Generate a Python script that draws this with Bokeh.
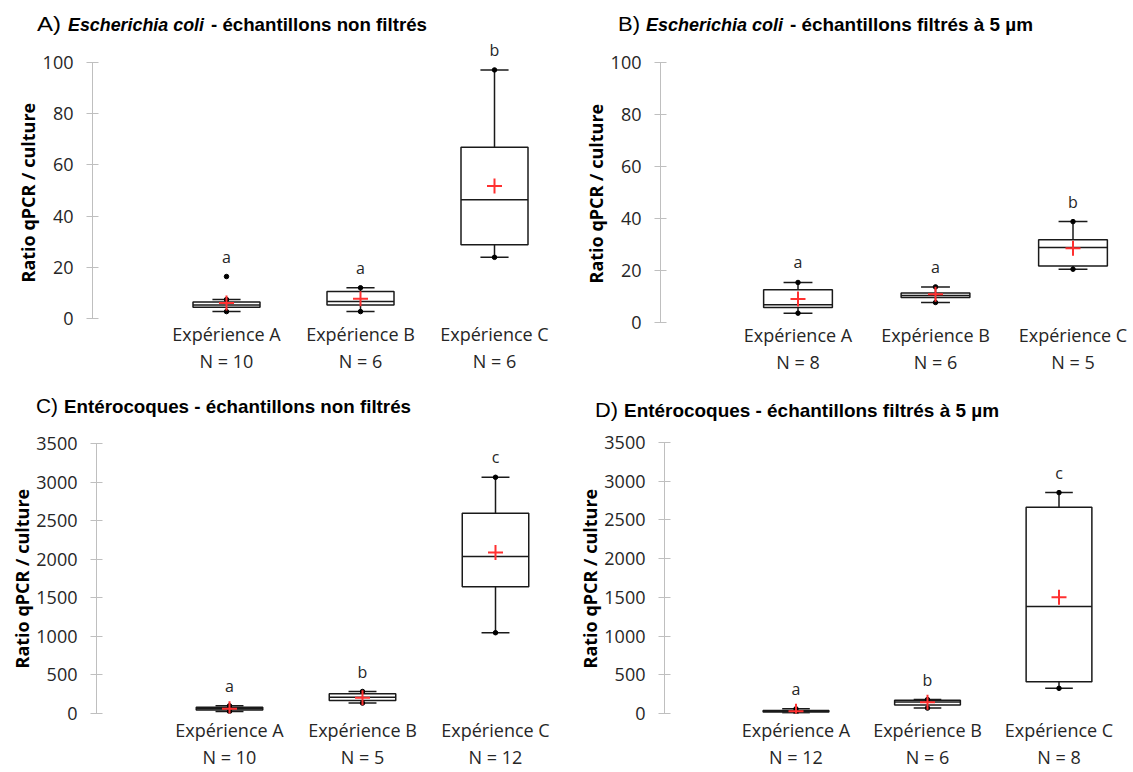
from bokeh.plotting import figure
from bokeh.models import Range1d, FixedTicker, LinearAxis, Title, Div
from bokeh.layouts import row, column
from bokeh.core.properties import value
from bokeh.embed import file_html
from bokeh.resources import INLINE

categories = ["Expérience A", "Expérience B", "Expérience C"]

# A) Escherichia coli - non filtrés
a_n = [10, 6, 6]
a_wlo = [2.7, 2.7, 23.9]
a_q1 = [4.4, 5.3, 28.8]
a_med = [5.3, 6.6, 46.4]
a_q3 = [6.4, 10.5, 66.9]
a_whi = [7.4, 12.0, 97.1]
a_mean = [6.1, 7.7, 51.8]
a_out_cat = ["Expérience A"]
a_out_val = [16.4]
a_letters = ["a", "a", "b"]

# B) Escherichia coli - filtrés à 5 µm
b_n = [8, 6, 5]
b_wlo = [3.6, 7.7, 20.5]
b_q1 = [5.8, 9.6, 21.7]
b_med = [6.8, 10.4, 28.8]
b_q3 = [12.6, 11.3, 31.8]
b_whi = [15.4, 13.7, 38.8]
b_mean = [9.0, 10.9, 28.6]
b_out_cat = []
b_out_val = []
b_letters = ["a", "a", "b"]

# C) Entérocoques - non filtrés
c_n = [10, 5, 12]
c_wlo = [25, 135, 1047]
c_q1 = [45, 170, 1642]
c_med = [60, 212, 2036]
c_q3 = [80, 255, 2596]
c_whi = [100, 285, 3062]
c_mean = [62, 205, 2087]
c_out_cat = []
c_out_val = []
c_letters = ["a", "b", "c"]

# D) Entérocoques - filtrés à 5 µm
d_n = [12, 6, 8]
d_wlo = [5, 70, 325]
d_q1 = [20, 110, 410]
d_med = [30, 150, 1382]
d_q3 = [40, 170, 2663]
d_whi = [60, 180, 2853]
d_mean = [30, 145, 1500]
d_out_cat = []
d_out_val = []
d_letters = ["a", "b", "c"]

ticks_small = [0, 20, 40, 60, 80, 100]
ticks_large = [0, 500, 1000, 1500, 2000, 2500, 3000, 3500]

titleA = ["A)", "Escherichia coli", "- échantillons non filtrés"]
titleB = ["B)", "Escherichia coli", "- échantillons filtrés à 5 µm"]
titleC = ["C)", "Entérocoques - échantillons non filtrés"]
titleD = ["D)", "Entérocoques - échantillons filtrés à 5 µm"]
ylabel = "Ratio qPCR / culture"

TXT = "#262626"
BOX = "#1a1a1a"
AXIS_GRAY = "#bfbfbf"


def make_panel(cfg, d):
    figL, figT, W, H = cfg["fig"]
    fl, fr, ft, fb = cfg["frame"]
    xstep = cfg["xstep"]
    ppy = (fb - cfg["ytop_px"]) / cfg["ticks"][-1]
    xend = (fr - fl) / xstep
    yend = (fb - ft) / ppy
    p = figure(width=W, height=H, output_backend="svg", toolbar_location=None,
               x_range=Range1d(0, xend), y_range=Range1d(0, yend),
               min_border_left=fl - figL, min_border_right=figL + W - fr,
               min_border_top=ft - figT, min_border_bottom=figT + H - fb)
    p.outline_line_color = None
    p.xgrid.visible = False
    p.ygrid.visible = False
    p.background_fill_color = "white"
    p.border_fill_color = "white"

    xs = [i + 1 for i in range(len(categories))]

    ya = p.yaxis[0]
    ya.ticker = FixedTicker(ticks=cfg["ticks"])
    ya.bounds = (0, cfg["ticks"][-1])
    ya.axis_line_color = AXIS_GRAY
    ya.major_tick_line_color = AXIS_GRAY
    ya.minor_tick_line_color = None
    ya.major_tick_in = 6
    ya.major_tick_out = 6
    ya.major_label_standoff = 13
    ya.major_label_text_font = "Open Sans"
    ya.major_label_text_font_size = "18px"
    ya.major_label_text_color = TXT

    p.add_layout(Title(text=ylabel, align="left", offset=cfg["ylab_offset"], standoff=0,
                       text_font="Open Sans", text_font_style="bold",
                       text_font_size="18px", text_color="black"), "left")

    xa = p.xaxis[0]
    xa.ticker = FixedTicker(ticks=xs)
    xa.major_label_overrides = {x: c for x, c in zip(xs, categories)}
    xa.axis_line_color = None
    xa.major_tick_line_color = None
    xa.minor_tick_line_color = None
    xa.major_tick_in = 0
    xa.major_tick_out = 0
    xa.major_label_standoff = cfg["xlab_standoff"]
    xa.major_label_text_font = "Open Sans"
    xa.major_label_text_font_size = "18px"
    xa.major_label_text_color = TXT

    xa2 = LinearAxis(ticker=FixedTicker(ticks=xs),
                     major_label_overrides={x: f"N = {n}" for x, n in zip(xs, d["n"])})
    xa2.axis_line_color = None
    xa2.major_tick_line_color = None
    xa2.minor_tick_line_color = None
    xa2.major_tick_in = 0
    xa2.major_tick_out = 0
    xa2.major_label_standoff = 0
    xa2.major_label_text_font = "Open Sans"
    xa2.major_label_text_font_size = "18px"
    xa2.major_label_text_color = TXT
    p.add_layout(xa2, "below")

    hw = 0.25
    cw = 0.105
    left = [x - hw for x in xs]
    right = [x + hw for x in xs]
    p.quad(left=left, right=right, bottom=d["q1"], top=d["q3"],
           fill_color="white", line_color=BOX, line_width=1.5)
    p.segment(x0=left, y0=d["med"], x1=right, y1=d["med"], line_color=BOX, line_width=1.5)
    p.segment(x0=xs, y0=d["q3"], x1=xs, y1=d["whi"], line_color=BOX, line_width=1.5)
    p.segment(x0=xs, y0=d["wlo"], x1=xs, y1=d["q1"], line_color=BOX, line_width=1.5)
    p.segment(x0=[x - cw for x in xs], y0=d["whi"], x1=[x + cw for x in xs], y1=d["whi"],
              line_color=BOX, line_width=1.5)
    p.segment(x0=[x - cw for x in xs], y0=d["wlo"], x1=[x + cw for x in xs], y1=d["wlo"],
              line_color=BOX, line_width=1.5)
    p.scatter(x=xs + xs, y=d["whi"] + d["wlo"], size=4.5, color="black")
    ox = [categories.index(c) + 1 for c in d["out_cat"]]
    if ox:
        p.scatter(x=ox, y=d["out_val"], size=4.5, color="black")
    p.scatter(x=xs, y=d["mean"], marker="cross", size=15, line_color="#ff3030", line_width=2)

    tops = []
    for i, x in enumerate(xs):
        vals = [d["whi"][i]] + [v for c, v in zip(d["out_cat"], d["out_val"]) if c == categories[i]]
        tops.append(max(vals))
    p.text(x=xs, y=tops, text=d["letters"], text_align="center", text_baseline="alphabetic",
           y_offset=-20, text_font=value("Open Sans"), text_font_size="16px", text_color=TXT)
    return p


def title_div(texts, layout, width, height, left, top):
    parts = []
    for txt, (rx, ry, fam, weight, style, size, tl) in zip(texts, layout):
        parts.append(
            f'<text x="{rx - left}" y="{ry - top}" font-family="{fam}" font-weight="{weight}" '
            f'font-style="{style}" font-size="{size}" textLength="{tl}" '
            f'lengthAdjust="spacingAndGlyphs" fill="black">{txt}</text>')
    html = (f'<svg width="{width}" height="{height}" style="display:block;overflow:visible">'
            + "".join(parts) + '</svg>')
    return Div(text=html, width=width, height=height, margin=0)


LW, RW = 566, 567
TOP_DIV_H = 36
BOT_DIV_Y, BOT_DIV_H = 378, 46
BOT_FIG_Y = BOT_DIV_Y + BOT_DIV_H
BOT_FIG_H = 771 - BOT_FIG_Y

cfgA = dict(fig=(0, TOP_DIV_H, LW, 378 - TOP_DIV_H), frame=(92, 561, 40, 318), xstep=134,
            ytop_px=62, ticks=ticks_small, ylab_offset=36, xlab_standoff=3)
cfgB = dict(fig=(LW, TOP_DIV_H, RW, 378 - TOP_DIV_H), frame=(660, 1128, 62, 322), xstep=137.5,
            ytop_px=62, ticks=ticks_small, ylab_offset=39, xlab_standoff=0)
cfgC = dict(fig=(0, BOT_FIG_Y, LW, BOT_FIG_H), frame=(96, 562, 443, 713), xstep=133,
            ytop_px=443, ticks=ticks_large, ylab_offset=45, xlab_standoff=4)
cfgD = dict(fig=(LW, BOT_FIG_Y, RW, BOT_FIG_H), frame=(664, 1128, 442, 713), xstep=131.5,
            ytop_px=442, ticks=ticks_large, ylab_offset=45, xlab_standoff=4)

layA = [(37, 31, "DejaVu Sans", "normal", "normal", 20, 24),
        (68, 31, "Lato", "bold", "italic", 19, 136),
        (211, 31, "Lato", "bold", "normal", 19, 216)]
layB = [(618, 31, "DejaVu Sans", "normal", "normal", 20, 22),
        (646, 31, "Lato", "bold", "italic", 19, 137),
        (790, 31, "Lato", "bold", "normal", 19, 243)]
layC = [(36, 413, "DejaVu Sans", "normal", "normal", 20, 22),
        (64, 413, "Lato", "bold", "normal", 19, 347)]
layD = [(595, 417, "DejaVu Sans", "normal", "normal", 20, 23),
        (624, 417, "Lato", "bold", "normal", 19, 375)]

dA = dict(n=a_n, wlo=a_wlo, q1=a_q1, med=a_med, q3=a_q3, whi=a_whi, mean=a_mean,
          out_cat=a_out_cat, out_val=a_out_val, letters=a_letters)
dB = dict(n=b_n, wlo=b_wlo, q1=b_q1, med=b_med, q3=b_q3, whi=b_whi, mean=b_mean,
          out_cat=b_out_cat, out_val=b_out_val, letters=b_letters)
dC = dict(n=c_n, wlo=c_wlo, q1=c_q1, med=c_med, q3=c_q3, whi=c_whi, mean=c_mean,
          out_cat=c_out_cat, out_val=c_out_val, letters=c_letters)
dD = dict(n=d_n, wlo=d_wlo, q1=d_q1, med=d_med, q3=d_q3, whi=d_whi, mean=d_mean,
          out_cat=d_out_cat, out_val=d_out_val, letters=d_letters)

pA = make_panel(cfgA, dA)
pB = make_panel(cfgB, dB)
pC = make_panel(cfgC, dC)
pD = make_panel(cfgD, dD)

divA = title_div(titleA, layA, LW, TOP_DIV_H, 0, 0)
divB = title_div(titleB, layB, RW, TOP_DIV_H, LW, 0)
divC = title_div(titleC, layC, LW, BOT_DIV_H, 0, BOT_DIV_Y)
divD = title_div(titleD, layD, RW, BOT_DIV_H, LW, BOT_DIV_Y)

layout = row(column(divA, row(pA), divC, row(pC)), column(divB, row(pB), divD, row(pD)))
open("out.html", "w").write(file_html(layout, INLINE))
